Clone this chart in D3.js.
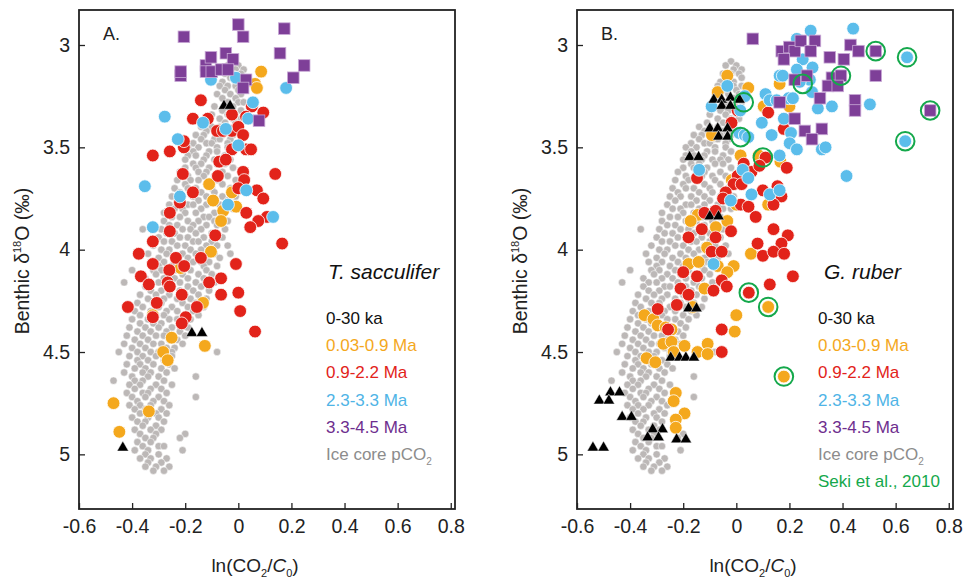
<!DOCTYPE html>
<html><head><meta charset="utf-8">
<script src="https://cdn.jsdelivr.net/npm/d3@7"></script>
<style>
html,body{margin:0;padding:0;background:#fff;}
svg{display:block;}
text{font-family:"Liberation Sans",Arial,Helvetica,sans-serif;}
</style></head>
<body>
<svg id="chart" width="968" height="579"></svg>
<script>
// ---------------- DATA ----------------
const xTicks = [-0.6, -0.4, -0.2, 0, 0.2, 0.4, 0.6, 0.8];
const yTicks = [3, 3.5, 4, 4.5, 5];
const legendLabels = ["0-30 ka", "0.03-0.9 Ma", "0.9-2.2 Ma", "2.3-3.3 Ma", "3.3-4.5 Ma", "Ice core pCO2", "Seki et al., 2010"];

// Ice core pCO2 cloud: rows of [benthic d18O, [ln(CO2/C0) values]]
const iceCoreRows = [
 [3.08,[-0.02]],[3.10,[-0.04,0.00]],[3.12,[-0.01,0.02]],[3.14,[-0.05,-0.02,0.01]],[3.16,[-0.03,0.02]],
 [3.18,[-0.06,-0.01]],[3.20,[-0.07,-0.04,-0.01,0.02]],[3.22,[-0.05,0.00]],[3.24,[-0.08,-0.03,0.01]],
 [3.26,[-0.06,-0.01]],[3.28,[-0.04,0.00,0.02]],[3.30,[-0.09,-0.02]],[3.32,[-0.06,-0.03,0.01]],
 [3.34,[-0.10,-0.04]],[3.36,[-0.07,-0.02,0.01]],[3.38,[-0.11,-0.05,-0.01]],
 [3.40,[-0.14,-0.10,-0.07,-0.01]],[3.42,[-0.12,-0.05,-0.03,0.00]],[3.44,[-0.16,-0.13,-0.06,-0.02]],
 [3.46,[-0.14,-0.09,-0.07,-0.03]],[3.48,[-0.17,-0.12,-0.10,-0.04]],[3.50,[-0.19,-0.15,-0.08,-0.04]],
 [3.52,[-0.17,-0.11,-0.08,-0.02]],[3.54,[-0.19,-0.16,-0.12,-0.05]],[3.56,[-0.20,-0.13,-0.09,-0.06,-0.03]],
 [3.58,[-0.17,-0.14,-0.08,-0.05]],[3.60,[-0.20,-0.16,-0.11,-0.02]],[3.62,[-0.22,-0.15,-0.12,-0.06]],
 [3.64,[-0.19,-0.13,-0.09,-0.04]],[3.66,[-0.23,-0.18,-0.15,-0.08,-0.01]],[3.68,[-0.20,-0.12,-0.06]],
 [3.70,[-0.24,-0.19,-0.16,-0.10,-0.03]],[3.72,[-0.22,-0.14,-0.09]],[3.74,[-0.25,-0.21,-0.17,-0.12,-0.06,-0.01]],
 [3.76,[-0.23,-0.15,-0.10,-0.04]],[3.78,[-0.26,-0.19,-0.17,-0.12,-0.07]],[3.80,[-0.24,-0.21,-0.14,-0.05,-0.02]],
 [3.82,[-0.28,-0.20,-0.16,-0.09]],[3.84,[-0.25,-0.22,-0.13,-0.11,-0.06]],[3.86,[-0.28,-0.19,-0.15,-0.09,-0.04]],
 [3.88,[-0.26,-0.23,-0.17,-0.12,-0.08]],[3.90,[-0.36,-0.29,-0.21,-0.18,-0.14,-0.05]],[3.92,[-0.27,-0.24,-0.16,-0.10]],
 [3.94,[-0.30,-0.22,-0.19,-0.13,-0.06]],[3.96,[-0.28,-0.25,-0.17,-0.15,-0.10]],
 [3.98,[-0.32,-0.23,-0.20,-0.12,-0.08,-0.04]],[4.00,[-0.29,-0.26,-0.18,-0.14,-0.11]],
 [4.02,[-0.34,-0.27,-0.21,-0.16,-0.09,-0.03]],[4.04,[-0.30,-0.24,-0.19,-0.12,-0.07]],
 [4.06,[-0.33,-0.28,-0.22,-0.17,-0.14,-0.11]],[4.08,[-0.30,-0.25,-0.20,-0.13,-0.08]],
 [4.10,[-0.40,-0.32,-0.29,-0.23,-0.18,-0.12]],[4.12,[-0.31,-0.26,-0.21,-0.15,-0.10]],
 [4.14,[-0.35,-0.28,-0.24,-0.19,-0.13]],[4.16,[-0.43,-0.33,-0.30,-0.22,-0.16,-0.09]],
 [4.18,[-0.35,-0.27,-0.25,-0.19,-0.14]],[4.20,[-0.33,-0.29,-0.22,-0.17,-0.11]],
 [4.22,[-0.37,-0.31,-0.26,-0.20,-0.15]],[4.24,[-0.34,-0.28,-0.23,-0.18,-0.12]],
 [4.26,[-0.38,-0.32,-0.29,-0.21,-0.16]],[4.28,[-0.36,-0.30,-0.25,-0.19,-0.13]],
 [4.30,[-0.39,-0.33,-0.27,-0.23,-0.17]],[4.32,[-0.37,-0.31,-0.28,-0.20,-0.15]],
 [4.34,[-0.40,-0.34,-0.26,-0.23,-0.18]],[4.36,[-0.37,-0.32,-0.29,-0.21]],
 [4.38,[-0.41,-0.35,-0.30,-0.25,-0.19]],[4.40,[-0.38,-0.33,-0.27,-0.22]],
 [4.42,[-0.42,-0.36,-0.31,-0.28,-0.20]],[4.44,[-0.39,-0.34,-0.26,-0.23]],
 [4.46,[-0.43,-0.37,-0.32,-0.29,-0.21]],[4.48,[-0.40,-0.35,-0.27,-0.24]],
 [4.50,[-0.45,-0.38,-0.33,-0.30,-0.25,-0.08]],[4.52,[-0.41,-0.36,-0.31,-0.25]],[4.54,[-0.38,-0.34,-0.28]],
 [4.56,[-0.42,-0.37,-0.32,-0.26]],[4.58,[-0.39,-0.35,-0.29,-0.24]],[4.60,[-0.43,-0.36,-0.33,-0.27]],
 [4.62,[-0.40,-0.34,-0.30,-0.16]],[4.64,[-0.47,-0.39,-0.36,-0.28]],[4.66,[-0.41,-0.37,-0.31,-0.25]],
 [4.68,[-0.39,-0.33,-0.29]],[4.70,[-0.42,-0.36,-0.34,-0.27]],[4.72,[-0.40,-0.35,-0.30,-0.16]],
 [4.74,[-0.38,-0.32,-0.28]],[4.76,[-0.41,-0.37,-0.33,-0.26]],[4.78,[-0.39,-0.35,-0.29]],
 [4.80,[-0.37,-0.31,-0.27]],[4.82,[-0.40,-0.34,-0.30]],[4.84,[-0.38,-0.35,-0.28]],[4.86,[-0.36,-0.31]],
 [4.88,[-0.39,-0.33,-0.29]],[4.90,[-0.37,-0.31,-0.20]],[4.92,[-0.35,-0.32,-0.22]],[4.94,[-0.38,-0.33]],
 [4.96,[-0.36,-0.30,-0.28]],[4.98,[-0.39,-0.34,-0.21]],[5.00,[-0.35,-0.30]],[5.02,[-0.37,-0.33,-0.27]],
 [5.04,[-0.34,-0.29]],[5.06,[-0.35,-0.31,-0.26]],[5.08,[-0.32,-0.28]]
];

// Panel A (T. sacculifer): [ln(CO2/C0), benthic d18O]
const aBlack = [[-0.054,3.30],[-0.031,3.30],[-0.175,4.41],[-0.137,4.41],[-0.435,4.97]];
const aOrange = [[0.086,3.13],[0.063,3.19],[0.07,3.21],[-0.11,3.68],[-0.095,3.76],[-0.024,3.72],[-0.057,3.81],
 [-0.008,3.79],[-0.065,3.86],[-0.103,4.01],[-0.217,4.09],[-0.133,4.26],[-0.322,4.32],[-0.251,4.43],[-0.126,4.47],
 [-0.283,4.50],[-0.266,4.54],[-0.47,4.75],[-0.337,4.79],[-0.448,4.89]];
const aRed = [[-0.141,3.27],[0.051,3.30],[0.094,3.33],[-0.171,3.36],[-0.115,3.36],[-0.024,3.34],[0.029,3.35],
 [-0.08,3.42],[-0.058,3.42],[-0.024,3.42],[0,3.40],[0.018,3.44],[-0.322,3.54],[-0.258,3.52],[-0.205,3.50],[-0.205,3.47],
 [-0.024,3.51],[0.029,3.51],[0.048,3.51],[-0.072,3.57],[-0.047,3.56],[-0.209,3.63],[-0.077,3.64],[0.018,3.62],
 [0.139,3.63],[0.022,3.66],[-0.171,3.72],[0,3.70],[0.07,3.71],[0.094,3.75],[-0.22,3.77],[-0.258,3.82],[0.03,3.82],
 [0.108,3.84],[0.075,3.86],[-0.258,3.91],[0.045,3.89],[-0.322,3.96],[-0.087,3.93],[0.165,3.97],[-0.375,4.02],
 [-0.235,4.04],[-0.141,4.04],[-0.322,4.07],[-0.009,4.07],[-0.204,4.08],[-0.367,4.13],[-0.26,4.10],[-0.065,4.14],
 [-0.11,4.16],[-0.337,4.17],[-0.266,4.16],[-0.258,4.18],[-0.213,4.22],[-0.065,4.22],[0,4.21],[-0.416,4.28],
 [-0.307,4.26],[-0.156,4.28],[0.007,4.30],[-0.322,4.33],[-0.198,4.33],[-0.213,4.36],[0.063,4.40]];
const aBlue = [[-0.103,3.17],[-0.009,3.16],[0.18,3.21],[0.055,3.28],[-0.277,3.35],[-0.133,3.38],[0.037,3.36],
 [-0.047,3.41],[-0.228,3.46],[0,3.49],[-0.352,3.69],[-0.22,3.74],[0.03,3.71],[-0.039,3.78],[0.131,3.84],[-0.322,3.89]];
const aPurple = [[-0.205,2.96],[0.0,2.90],[0.018,2.96],[0.173,2.92],[0.157,3.04],[0.248,3.10],[0.207,3.16],
 [-0.217,3.15],[-0.217,3.13],[-0.122,3.10],[-0.103,3.06],[-0.122,3.13],[-0.10,3.13],[-0.047,3.04],[-0.02,3.07],
 [-0.065,3.12],[-0.039,3.12],[0.029,3.17],[0.018,3.21],[0.078,3.37]];

// Panel B (G. ruber)
const bBlack = [[-0.085,3.27],[-0.055,3.27],[-0.022,3.26],[0.012,3.27],[-0.055,3.30],[-0.022,3.30],[-0.10,3.41],
 [-0.07,3.41],[-0.033,3.41],[-0.067,3.45],[-0.033,3.45],[-0.176,3.55],[-0.142,3.55],[-0.10,3.84],[-0.067,3.84],
 [-0.18,4.29],[-0.15,4.29],[-0.247,4.53],[-0.214,4.53],[-0.19,4.53],[-0.16,4.53],[-0.474,4.70],[-0.44,4.70],
 [-0.516,4.74],[-0.48,4.74],[-0.43,4.82],[-0.395,4.82],[-0.315,4.88],[-0.278,4.88],[-0.334,4.92],[-0.293,4.92],
 [-0.225,4.93],[-0.19,4.93],[-0.54,4.97],[-0.50,4.97]];
const bOrange = [[-0.034,3.15],[-0.07,3.23],[0.045,3.21],[0.163,3.19],[0.103,3.30],[0.2,3.30],[-0.092,3.44],
 [0.016,3.54],[0.084,3.54],[0.166,3.57],[-0.017,3.66],[0.0,3.78],[0.12,3.78],[-0.145,3.83],[-0.172,3.86],
 [-0.077,3.89],[-0.034,3.86],[-0.11,3.99],[0.055,4.02],[-0.18,4.07],[-0.142,4.06],[-0.07,4.08],[-0.01,4.08],
 [-0.034,4.11],[-0.12,4.19],[-0.164,4.28],[0.12,4.28],[-0.346,4.32],[-0.312,4.34],[-0.296,4.37],[-0.266,4.38],
 [-0.244,4.39],[0.0,4.32],[-0.006,4.40],[-0.275,4.46],[-0.244,4.45],[-0.236,4.50],[-0.195,4.47],[-0.146,4.50],
 [-0.108,4.46],[-0.108,4.51],[-0.338,4.53],[-0.305,4.55],[0.179,4.62],[-0.228,4.70],[-0.236,4.74],[-0.195,4.80],
 [-0.228,4.83],[-0.228,4.87]];
const bRed = [[-0.018,3.38],[0.005,3.32],[0.12,3.33],[0.179,3.41],[0.11,3.55],[0.028,3.58],[0.057,3.62],[0.087,3.59],
 [0.19,3.60],[0.005,3.64],[-0.148,3.65],[-0.01,3.68],[0.02,3.68],[0.155,3.69],[0.1,3.71],[0.17,3.74],[-0.04,3.72],
 [-0.05,3.75],[0.017,3.78],[0.046,3.79],[0.14,3.78],[0.073,3.84],[-0.12,3.82],[-0.078,3.81],[-0.13,3.90],[-0.02,3.91],
 [0.14,3.90],[0.194,3.93],[0.17,3.97],[0.08,3.97],[0.1,4.03],[0.14,4.01],[0.18,4.02],[-0.18,3.94],[-0.078,3.94],
 [-0.093,4.01],[-0.055,4.01],[-0.2,4.11],[-0.148,4.13],[-0.055,4.15],[-0.036,4.18],[0.126,4.17],[0.213,4.13],
 [0.047,4.21],[-0.086,4.20],[-0.21,4.19],[-0.18,4.22],[-0.224,4.27],[-0.296,4.29],[-0.257,4.39],[-0.055,4.39],
 [-0.055,4.50]];
const bBlue = [[0.44,2.92],[0.28,2.93],[0.228,2.97],[0.25,3.07],[0.287,3.11],[0.228,3.12],[0.163,3.15],[0.175,3.15],
 [0.277,3.17],[0.239,3.18],[0.285,3.23],[0.11,3.24],[0.126,3.27],[0.152,3.27],[0.197,3.26],[0.213,3.26],[0.307,3.31],
 [0.36,3.30],[0.503,3.29],[0.643,3.06],[0.636,3.47],[0.179,3.36],[0.096,3.38],[0.206,3.43],[0.133,3.44],[0.201,3.48],
 [0.228,3.51],[0.322,3.51],[0.336,3.50],[0.163,3.54],[0.415,3.64],[0.032,3.25],[0.015,3.32],[-0.093,3.30],
 [-0.034,3.20],[0.011,3.43],[0.032,3.44],[0.045,3.45],[-0.14,3.61],[0.024,3.61],[0.045,3.65],[0.057,3.73],
 [0.126,3.73],[0.163,3.71],[-0.021,3.76],[-0.086,4.07]];
const bPurple = [[0.062,2.97],[0.171,3.03],[0.2,3.01],[0.22,3.03],[0.243,2.98],[0.296,2.98],[0.28,3.03],[0.179,3.07],
 [0.352,3.06],[0.405,3.07],[0.43,3.00],[0.46,3.03],[0.525,3.03],[0.266,3.15],[0.22,3.17],[0.36,3.16],[0.394,3.15],
 [0.345,3.20],[0.382,3.20],[0.525,3.15],[0.315,3.26],[0.163,3.28],[0.447,3.27],[0.447,3.32],[0.73,3.32],[0.22,3.36],
 [0.258,3.42],[0.322,3.41],[0.285,3.46]];
const bSeki = [[0.525,3.03],[0.643,3.06],[0.394,3.15],[0.25,3.19],[0.73,3.32],[0.636,3.47],[0.028,3.28],
 [0.016,3.45],[0.10,3.55],[0.047,4.21],[0.12,4.28],[0.179,4.62]];

// ---------------- STYLE ----------------
const C = {black:"#000000", orange:"#F4A81D", red:"#E2231A", blue:"#5BBDEB", purple:"#7E3F98",
  gray:"#BCB8B7", green:"#14A84B"};
const legendColors = ["#111111","#F4A81D","#E2231A","#4FB4E6","#6E2E8E","#8C8C8C","#14A84B"];
const FONT = '"Liberation Sans",Arial,Helvetica,sans-serif';

const iceCore = [];
iceCoreRows.forEach(([yv, xs]) => xs.forEach(xv => iceCore.push([xv, yv])));

const svg = d3.select("#chart");
const TOP = 10, BOTTOM = 509, W = 376;
const y = d3.scaleLinear().domain([2.829, 5.267]).range([TOP, BOTTOM]);
const fmtTick = d => d === 0 ? "0" : d3.format(".1f")(d).replace("\u2212", "-");

function drawPanel(cfg) {
  const x = d3.scaleLinear().domain([-0.6, 0.816]).range([cfg.left, cfg.left + W]);
  const g = svg.append("g");
  const plot = g.append("g");

  plot.selectAll("circle.ice").data(iceCore).join("circle")
    .attr("cx", d => x(d[0])).attr("cy", d => y(d[1])).attr("r", 3.7)
    .attr("fill", C.gray).attr("stroke", "#fff").attr("stroke-width", 0.5);

  const circ = (data, col) => plot.append("g").selectAll("circle").data(data).join("circle")
    .attr("cx", d => x(d[0])).attr("cy", d => y(d[1])).attr("r", 6.4)
    .attr("fill", col).attr("stroke", "#fff").attr("stroke-width", 0.8);

  circ(cfg.orange, C.orange);
  circ(cfg.red, C.red);
  circ(cfg.blue, C.blue);

  plot.append("g").selectAll("rect").data(cfg.purple).join("rect")
    .attr("x", d => x(d[0]) - 5.8).attr("y", d => y(d[1]) - 5.8)
    .attr("width", 11.6).attr("height", 11.6)
    .attr("fill", C.purple).attr("stroke", "#c9a9d6").attr("stroke-width", 0.8);

  const tri = d3.symbol(d3.symbolTriangle, 58);
  plot.append("g").selectAll("path").data(cfg.black).join("path")
    .attr("d", tri).attr("transform", d => `translate(${x(d[0])},${y(d[1]) - 0.5})`)
    .attr("fill", C.black).attr("stroke", "#fff").attr("stroke-width", 0.5);

  if (cfg.seki) {
    plot.append("g").selectAll("circle").data(cfg.seki).join("circle")
      .attr("cx", d => x(d[0])).attr("cy", d => y(d[1])).attr("r", 9.3)
      .attr("fill", "none").attr("stroke", C.green).attr("stroke-width", 2);
  }

  const xa = g.append("g").attr("transform", `translate(0,${BOTTOM})`)
    .call(d3.axisBottom(x).tickValues(xTicks).tickSizeInner(-6).tickSizeOuter(0).tickPadding(10)
      .tickFormat(fmtTick));
  xa.select(".domain").remove();
  xa.selectAll("line").attr("stroke", "#222").attr("stroke-width", 1.3);
  xa.selectAll("text").attr("font-size", 19.5).attr("fill", "#222").attr("font-family", FONT);

  const ya = g.append("g").attr("transform", `translate(${cfg.left},0)`)
    .call(d3.axisLeft(y).tickValues(yTicks).tickSizeInner(-6).tickSizeOuter(0).tickPadding(9)
      .tickFormat(d => String(d)));
  ya.select(".domain").remove();
  ya.selectAll("line").attr("stroke", "#222").attr("stroke-width", 1.3);
  ya.selectAll("text").attr("font-size", 19.5).attr("fill", "#222").attr("font-family", FONT);

  g.append("rect").attr("x", cfg.left).attr("y", TOP).attr("width", W).attr("height", BOTTOM - TOP)
    .attr("fill", "none").attr("stroke", "#222").attr("stroke-width", 1.8);

  g.append("text").attr("x", cfg.left + 24).attr("y", 40).attr("font-size", 18).attr("fill", "#222").text(cfg.letter);

  g.append("text").attr("x", cfg.spX).attr("y", 279).attr("font-size", 21).attr("font-style", "italic")
    .attr("fill", "#111").text(cfg.species);

  const n = cfg.seki ? 7 : 6;
  for (let i = 0; i < n; i++) {
    const t = g.append("text").attr("x", cfg.legX).attr("y", 324 + i * 27.2)
      .attr("font-size", 17).attr("fill", legendColors[i]);
    if (i === 5) {
      t.append("tspan").text("Ice core pCO");
      t.append("tspan").attr("font-size", 10).attr("dy", 5).text("2");
    } else {
      t.text(legendLabels[i]);
    }
  }

  const xt = g.append("text").attr("x", cfg.left + 176).attr("y", 572).attr("text-anchor", "middle")
    .attr("font-size", 19).attr("fill", "#222");
  xt.append("tspan").text("ln(CO");
  xt.append("tspan").attr("font-size", 11).attr("dy", 5).text("2");
  xt.append("tspan").attr("dy", -5).text("/");
  xt.append("tspan").attr("font-style", "italic").text("C");
  xt.append("tspan").attr("font-size", 11).attr("dy", 5).text("0");
  xt.append("tspan").attr("dy", -5).text(")");

  const yt = g.append("text").attr("transform", `translate(${cfg.left - 50},261) rotate(-90)`)
    .attr("text-anchor", "middle").attr("font-size", 19.5).attr("fill", "#222");
  yt.append("tspan").text("Benthic δ");
  yt.append("tspan").attr("font-size", 11).attr("dy", -8).text("18");
  yt.append("tspan").attr("dy", 8).text("O (‰)");
}

drawPanel({left: 79, letter: "A.", species: "T. sacculifer", spX: 328, legX: 326,
  black: aBlack, orange: aOrange, red: aRed, blue: aBlue, purple: aPurple});
drawPanel({left: 577, letter: "B.", species: "G. ruber", spX: 824, legX: 818,
  black: bBlack, orange: bOrange, red: bRed, blue: bBlue, purple: bPurple, seki: bSeki});
</script>
</body></html>
